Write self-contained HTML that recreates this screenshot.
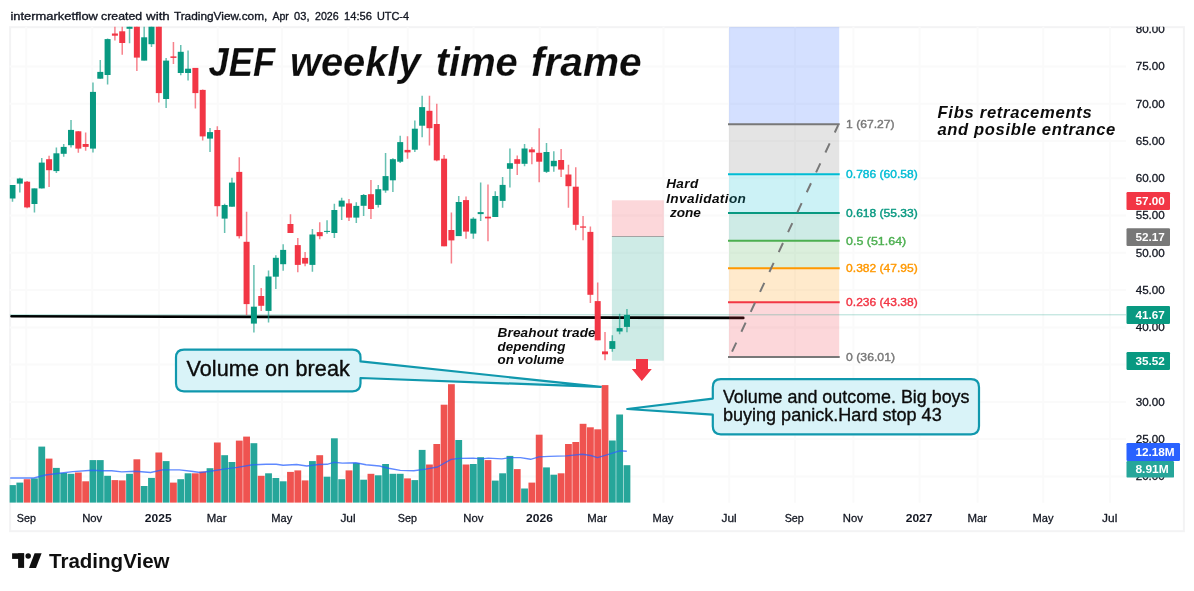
<!DOCTYPE html>
<html lang="en">
<head>
<meta charset="utf-8">
<title>JEF weekly time frame</title>
<style>
html,body{margin:0;padding:0;background:#fff;}
body{width:1194px;height:591px;overflow:hidden;font-family:"Liberation Sans", "DejaVu Sans", sans-serif;}
svg{display:block;font-family:"Liberation Sans", "DejaVu Sans", sans-serif;}
text{white-space:pre;}
</style>
</head>
<body>
<svg width="1194" height="591" viewBox="0 0 1194 591">
<defs>
<clipPath id="pane"><rect x="9.6" y="26.7" width="1116.4" height="476.1"/></clipPath>
<clipPath id="frame"><rect x="9.6" y="26.7" width="1174.8000000000002" height="505.00000000000006"/></clipPath>
</defs>
<rect x="0" y="0" width="1194" height="591" fill="#ffffff"/>

<text x="10.5" y="19.5" font-size="11.6" fill="#131722" stroke="#131722" stroke-width="0.35" stroke-linejoin="round" textLength="87.4" lengthAdjust="spacingAndGlyphs">intermarketflow</text>
<text x="101.1" y="19.5" font-size="11.6" fill="#131722" stroke="#131722" stroke-width="0.35" stroke-linejoin="round" textLength="41.0" lengthAdjust="spacingAndGlyphs">created</text>
<text x="146.1" y="19.5" font-size="11.6" fill="#131722" stroke="#131722" stroke-width="0.35" stroke-linejoin="round" textLength="23.7" lengthAdjust="spacingAndGlyphs">with</text>
<text x="173.9" y="19.5" font-size="11.6" fill="#131722" stroke="#131722" stroke-width="0.35" stroke-linejoin="round" textLength="93.4" lengthAdjust="spacingAndGlyphs">TradingView.com,</text>
<text x="272.4" y="19.5" font-size="11.6" fill="#131722" stroke="#131722" stroke-width="0.35" stroke-linejoin="round" textLength="16.4" lengthAdjust="spacingAndGlyphs">Apr</text>
<text x="294.1" y="19.5" font-size="11.6" fill="#131722" stroke="#131722" stroke-width="0.35" stroke-linejoin="round" textLength="15.4" lengthAdjust="spacingAndGlyphs">03,</text>
<text x="315.0" y="19.5" font-size="11.6" fill="#131722" stroke="#131722" stroke-width="0.35" stroke-linejoin="round" textLength="23.7" lengthAdjust="spacingAndGlyphs">2026</text>
<text x="344.1" y="19.5" font-size="11.6" fill="#131722" stroke="#131722" stroke-width="0.35" stroke-linejoin="round" textLength="27.8" lengthAdjust="spacingAndGlyphs">14:56</text>
<text x="376.9" y="19.5" font-size="11.6" fill="#131722" stroke="#131722" stroke-width="0.35" stroke-linejoin="round" textLength="32.1" lengthAdjust="spacingAndGlyphs">UTC-4</text>
<rect x="10.1" y="27.2" width="1173.8" height="504.0" fill="#fff" stroke="#f3f3f4" stroke-width="2"/>
<g stroke="#fafafa" stroke-width="2">
<line x1="26.2" y1="26.7" x2="26.2" y2="502.8"/>
<line x1="92.2" y1="26.7" x2="92.2" y2="502.8"/>
<line x1="159.0" y1="26.7" x2="159.0" y2="502.8"/>
<line x1="217.7" y1="26.7" x2="217.7" y2="502.8"/>
<line x1="282.1" y1="26.7" x2="282.1" y2="502.8"/>
<line x1="348.3" y1="26.7" x2="348.3" y2="502.8"/>
<line x1="407.7" y1="26.7" x2="407.7" y2="502.8"/>
<line x1="473.6" y1="26.7" x2="473.6" y2="502.8"/>
<line x1="539.8" y1="26.7" x2="539.8" y2="502.8"/>
<line x1="597.5" y1="26.7" x2="597.5" y2="502.8"/>
<line x1="663.5" y1="26.7" x2="663.5" y2="502.8"/>
<line x1="729.3" y1="26.7" x2="729.3" y2="502.8"/>
<line x1="795.1" y1="26.7" x2="795.1" y2="502.8"/>
<line x1="853.4" y1="26.7" x2="853.4" y2="502.8"/>
<line x1="919.6" y1="26.7" x2="919.6" y2="502.8"/>
<line x1="977.6" y1="26.7" x2="977.6" y2="502.8"/>
<line x1="1043.3" y1="26.7" x2="1043.3" y2="502.8"/>
<line x1="1110.0" y1="26.7" x2="1110.0" y2="502.8"/>
<line x1="9.6" y1="66.6" x2="1126" y2="66.6"/>
<line x1="9.6" y1="103.8" x2="1126" y2="103.8"/>
<line x1="9.6" y1="141.1" x2="1126" y2="141.1"/>
<line x1="9.6" y1="178.3" x2="1126" y2="178.3"/>
<line x1="9.6" y1="215.6" x2="1126" y2="215.6"/>
<line x1="9.6" y1="252.8" x2="1126" y2="252.8"/>
<line x1="9.6" y1="290.1" x2="1126" y2="290.1"/>
<line x1="9.6" y1="327.4" x2="1126" y2="327.4"/>
<line x1="9.6" y1="364.6" x2="1126" y2="364.6"/>
<line x1="9.6" y1="401.9" x2="1126" y2="401.9"/>
<line x1="9.6" y1="439.1" x2="1126" y2="439.1"/>
<line x1="9.6" y1="476.4" x2="1126" y2="476.4"/>
</g>
<text x="666.2" y="188.4" font-size="13.6" fill="#0c0c0c" font-weight="bold" font-style="italic" textLength="32.0" lengthAdjust="spacing">Hard</text>
<text x="666.2" y="202.5" font-size="13.6" fill="#0c0c0c" font-weight="bold" font-style="italic" textLength="79.7" lengthAdjust="spacing">Invalidation</text>
<text x="666.2" y="216.6" font-size="13.6" fill="#0c0c0c" font-weight="bold" font-style="italic" textLength="34.6" lengthAdjust="spacing"> zone</text>
<text x="497.6" y="336.5" font-size="13.6" fill="#0c0c0c" font-weight="bold" font-style="italic" textLength="98.0" lengthAdjust="spacing">Breahout trade</text>
<text x="497.6" y="350.6" font-size="13.6" fill="#0c0c0c" font-weight="bold" font-style="italic" textLength="67.8" lengthAdjust="spacingAndGlyphs">depending</text>
<text x="497.6" y="364.4" font-size="13.6" fill="#0c0c0c" font-weight="bold" font-style="italic" textLength="66.7" lengthAdjust="spacingAndGlyphs">on volume</text>
<g clip-path="url(#pane)">
<rect x="611.9" y="200.3" width="51.9" height="36.2" fill="#f23645" fill-opacity="0.2"/>
<rect x="611.9" y="236.5" width="51.9" height="124.2" fill="#089981" fill-opacity="0.2"/>
<line x1="611.9" y1="236.5" x2="663.8" y2="236.5" stroke="#8e8e8e" stroke-opacity="0.75" stroke-width="1"/>
<line x1="11.5" y1="316.3" x2="743.3" y2="317.9" stroke="#000" stroke-width="2.6" stroke-linecap="round"/>
<rect x="729" y="26.7" width="110.2" height="97.5" fill="#2962ff" fill-opacity="0.2"/>
<rect x="729" y="124.2" width="110.2" height="50.0" fill="#787878" fill-opacity="0.2"/>
<rect x="729" y="174.2" width="110.2" height="38.7" fill="#00bcd4" fill-opacity="0.2"/>
<rect x="729" y="212.9" width="110.2" height="27.9" fill="#089981" fill-opacity="0.2"/>
<rect x="729" y="240.8" width="110.2" height="27.4" fill="#4caf50" fill-opacity="0.2"/>
<rect x="729" y="268.2" width="110.2" height="34.0" fill="#ff9800" fill-opacity="0.2"/>
<rect x="729" y="302.2" width="110.2" height="54.8" fill="#f23645" fill-opacity="0.2"/>
</g>
<g clip-path="url(#pane)">
<line x1="728" y1="124.2" x2="839.7" y2="124.2" stroke="#787878" stroke-width="2"/>
<line x1="728" y1="174.2" x2="839.7" y2="174.2" stroke="#00bcd4" stroke-width="2"/>
<line x1="728" y1="212.9" x2="839.7" y2="212.9" stroke="#089981" stroke-width="2"/>
<line x1="728" y1="240.8" x2="839.7" y2="240.8" stroke="#4caf50" stroke-width="2"/>
<line x1="728" y1="268.2" x2="839.7" y2="268.2" stroke="#ff9800" stroke-width="2"/>
<line x1="728" y1="302.2" x2="839.7" y2="302.2" stroke="#f23645" stroke-width="2"/>
<line x1="728" y1="357.0" x2="839.7" y2="357.0" stroke="#787878" stroke-width="2"/>
<line x1="838.2" y1="125.2" x2="730" y2="356.0" stroke="#787878" stroke-width="2" stroke-dasharray="10 12" stroke-dashoffset="1.9"/>
<line x1="9.6" y1="314.8" x2="1126" y2="314.8" stroke="#089981" stroke-opacity="0.32" stroke-width="1"/>
</g>
<text x="846.1" y="128.1" font-size="11.8" fill="#787878" stroke="#787878" stroke-width="0.4" stroke-linejoin="round" textLength="48.4" lengthAdjust="spacingAndGlyphs">1 (67.27)</text>
<text x="846.1" y="178.1" font-size="11.8" fill="#00bcd4" stroke="#00bcd4" stroke-width="0.4" stroke-linejoin="round" textLength="71.6" lengthAdjust="spacingAndGlyphs">0.786 (60.58)</text>
<text x="846.1" y="216.8" font-size="11.8" fill="#089981" stroke="#089981" stroke-width="0.4" stroke-linejoin="round" textLength="71.6" lengthAdjust="spacingAndGlyphs">0.618 (55.33)</text>
<text x="846.1" y="244.7" font-size="11.8" fill="#4caf50" stroke="#4caf50" stroke-width="0.4" stroke-linejoin="round" textLength="60.1" lengthAdjust="spacingAndGlyphs">0.5 (51.64)</text>
<text x="846.1" y="272.1" font-size="11.8" fill="#ff9800" stroke="#ff9800" stroke-width="0.4" stroke-linejoin="round" textLength="71.6" lengthAdjust="spacingAndGlyphs">0.382 (47.95)</text>
<text x="846.1" y="306.1" font-size="11.8" fill="#f23645" stroke="#f23645" stroke-width="0.4" stroke-linejoin="round" textLength="71.6" lengthAdjust="spacingAndGlyphs">0.236 (43.38)</text>
<text x="846.1" y="360.9" font-size="11.8" fill="#787878" stroke="#787878" stroke-width="0.4" stroke-linejoin="round" textLength="48.9" lengthAdjust="spacingAndGlyphs">0 (36.01)</text>
<text x="208.6" y="76.3" font-size="40" fill="#0c0c0c" font-weight="bold" font-style="italic" textLength="66.6" lengthAdjust="spacingAndGlyphs" stroke="#ffffff" stroke-width="0.35" stroke-opacity="0.5">JEF</text>
<text x="290.0" y="76.3" font-size="40" fill="#0c0c0c" font-weight="bold" font-style="italic" textLength="130.6" lengthAdjust="spacingAndGlyphs" stroke="#ffffff" stroke-width="0.35" stroke-opacity="0.5">weekly</text>
<text x="435.8" y="76.3" font-size="40" fill="#0c0c0c" font-weight="bold" font-style="italic" textLength="82.0" lengthAdjust="spacingAndGlyphs" stroke="#ffffff" stroke-width="0.35" stroke-opacity="0.5">time</text>
<text x="531.0" y="76.3" font-size="40" fill="#0c0c0c" font-weight="bold" font-style="italic" textLength="110.6" lengthAdjust="spacingAndGlyphs" stroke="#ffffff" stroke-width="0.35" stroke-opacity="0.5">frame</text>
<text x="937.5" y="117.6" font-size="16.6" fill="#0c0c0c" font-weight="bold" font-style="italic" textLength="154.2" lengthAdjust="spacing">Fibs retracements</text>
<text x="937.5" y="135.1" font-size="16.6" fill="#0c0c0c" font-weight="bold" font-style="italic" textLength="177.8" lengthAdjust="spacing">and posible entrance</text>
<g clip-path="url(#pane)">
<rect x="9.10" y="485.1" width="6.8" height="17.7" fill="#26a69a"/>
<rect x="16.42" y="482.6" width="6.8" height="20.2" fill="#26a69a"/>
<rect x="23.73" y="479.2" width="6.8" height="23.6" fill="#ef5350"/>
<rect x="31.05" y="478.4" width="6.8" height="24.4" fill="#26a69a"/>
<rect x="38.36" y="446.6" width="6.8" height="56.2" fill="#26a69a"/>
<rect x="45.68" y="458.6" width="6.8" height="44.2" fill="#ef5350"/>
<rect x="52.99" y="467.9" width="6.8" height="34.9" fill="#26a69a"/>
<rect x="60.31" y="473.0" width="6.8" height="29.8" fill="#26a69a"/>
<rect x="67.62" y="473.8" width="6.8" height="29.0" fill="#26a69a"/>
<rect x="74.94" y="472.5" width="6.8" height="30.3" fill="#ef5350"/>
<rect x="82.25" y="481.3" width="6.8" height="21.5" fill="#ef5350"/>
<rect x="89.56" y="460.1" width="6.8" height="42.7" fill="#26a69a"/>
<rect x="96.88" y="460.1" width="6.8" height="42.7" fill="#26a69a"/>
<rect x="104.19" y="475.8" width="6.8" height="27.0" fill="#26a69a"/>
<rect x="111.51" y="480.1" width="6.8" height="22.7" fill="#ef5350"/>
<rect x="118.83" y="480.4" width="6.8" height="22.4" fill="#ef5350"/>
<rect x="126.14" y="473.8" width="6.8" height="29.0" fill="#26a69a"/>
<rect x="133.46" y="459.3" width="6.8" height="43.5" fill="#ef5350"/>
<rect x="140.77" y="486.0" width="6.8" height="16.8" fill="#26a69a"/>
<rect x="148.09" y="477.9" width="6.8" height="24.9" fill="#26a69a"/>
<rect x="155.40" y="452.5" width="6.8" height="50.3" fill="#ef5350"/>
<rect x="162.72" y="461.1" width="6.8" height="41.7" fill="#26a69a"/>
<rect x="170.03" y="482.6" width="6.8" height="20.2" fill="#ef5350"/>
<rect x="177.34" y="479.2" width="6.8" height="23.6" fill="#26a69a"/>
<rect x="184.66" y="473.3" width="6.8" height="29.5" fill="#26a69a"/>
<rect x="191.97" y="473.3" width="6.8" height="29.5" fill="#ef5350"/>
<rect x="199.29" y="471.6" width="6.8" height="31.2" fill="#ef5350"/>
<rect x="206.61" y="468.2" width="6.8" height="34.6" fill="#26a69a"/>
<rect x="213.92" y="442.5" width="6.8" height="60.3" fill="#ef5350"/>
<rect x="221.24" y="455.2" width="6.8" height="47.6" fill="#26a69a"/>
<rect x="228.55" y="462.0" width="6.8" height="40.8" fill="#26a69a"/>
<rect x="235.87" y="440.6" width="6.8" height="62.2" fill="#ef5350"/>
<rect x="243.18" y="436.6" width="6.8" height="66.2" fill="#ef5350"/>
<rect x="250.50" y="443.2" width="6.8" height="59.6" fill="#26a69a"/>
<rect x="257.81" y="475.8" width="6.8" height="27.0" fill="#ef5350"/>
<rect x="265.13" y="473.3" width="6.8" height="29.5" fill="#26a69a"/>
<rect x="272.44" y="478.0" width="6.8" height="24.8" fill="#26a69a"/>
<rect x="279.76" y="481.3" width="6.8" height="21.5" fill="#26a69a"/>
<rect x="287.07" y="471.9" width="6.8" height="30.9" fill="#ef5350"/>
<rect x="294.39" y="470.4" width="6.8" height="32.4" fill="#ef5350"/>
<rect x="301.70" y="480.4" width="6.8" height="22.4" fill="#ef5350"/>
<rect x="309.02" y="461.1" width="6.8" height="41.7" fill="#26a69a"/>
<rect x="316.33" y="455.2" width="6.8" height="47.6" fill="#ef5350"/>
<rect x="323.65" y="476.7" width="6.8" height="26.1" fill="#26a69a"/>
<rect x="330.96" y="438.3" width="6.8" height="64.5" fill="#26a69a"/>
<rect x="338.28" y="479.2" width="6.8" height="23.6" fill="#26a69a"/>
<rect x="345.59" y="470.4" width="6.8" height="32.4" fill="#ef5350"/>
<rect x="352.91" y="463.1" width="6.8" height="39.7" fill="#26a69a"/>
<rect x="360.22" y="479.7" width="6.8" height="23.1" fill="#26a69a"/>
<rect x="367.54" y="473.8" width="6.8" height="29.0" fill="#ef5350"/>
<rect x="374.85" y="475.3" width="6.8" height="27.5" fill="#26a69a"/>
<rect x="382.17" y="464.0" width="6.8" height="38.8" fill="#26a69a"/>
<rect x="389.48" y="473.8" width="6.8" height="29.0" fill="#26a69a"/>
<rect x="396.80" y="473.8" width="6.8" height="29.0" fill="#26a69a"/>
<rect x="404.11" y="478.4" width="6.8" height="24.4" fill="#ef5350"/>
<rect x="411.43" y="480.1" width="6.8" height="22.7" fill="#26a69a"/>
<rect x="418.74" y="449.9" width="6.8" height="52.9" fill="#26a69a"/>
<rect x="426.06" y="464.5" width="6.8" height="38.3" fill="#ef5350"/>
<rect x="433.37" y="444.0" width="6.8" height="58.8" fill="#ef5350"/>
<rect x="440.69" y="404.7" width="6.8" height="98.1" fill="#ef5350"/>
<rect x="448.00" y="384.2" width="6.8" height="118.6" fill="#ef5350"/>
<rect x="455.32" y="440.0" width="6.8" height="62.8" fill="#26a69a"/>
<rect x="462.63" y="464.5" width="6.8" height="38.3" fill="#ef5350"/>
<rect x="469.95" y="464.0" width="6.8" height="38.8" fill="#26a69a"/>
<rect x="477.26" y="457.2" width="6.8" height="45.6" fill="#26a69a"/>
<rect x="484.58" y="460.1" width="6.8" height="42.7" fill="#ef5350"/>
<rect x="491.89" y="480.6" width="6.8" height="22.2" fill="#26a69a"/>
<rect x="499.21" y="473.3" width="6.8" height="29.5" fill="#26a69a"/>
<rect x="506.52" y="455.9" width="6.8" height="46.9" fill="#26a69a"/>
<rect x="513.84" y="469.1" width="6.8" height="33.7" fill="#ef5350"/>
<rect x="521.15" y="488.5" width="6.8" height="14.3" fill="#26a69a"/>
<rect x="528.47" y="482.6" width="6.8" height="20.2" fill="#ef5350"/>
<rect x="535.78" y="434.7" width="6.8" height="68.1" fill="#ef5350"/>
<rect x="543.10" y="467.4" width="6.8" height="35.4" fill="#26a69a"/>
<rect x="550.41" y="474.7" width="6.8" height="28.1" fill="#26a69a"/>
<rect x="557.73" y="473.3" width="6.8" height="29.5" fill="#ef5350"/>
<rect x="565.04" y="444.0" width="6.8" height="58.8" fill="#ef5350"/>
<rect x="572.36" y="442.0" width="6.8" height="60.8" fill="#ef5350"/>
<rect x="579.67" y="423.8" width="6.8" height="79.0" fill="#ef5350"/>
<rect x="586.99" y="427.3" width="6.8" height="75.5" fill="#ef5350"/>
<rect x="594.30" y="429.3" width="6.8" height="73.5" fill="#ef5350"/>
<rect x="601.62" y="385.1" width="6.8" height="117.7" fill="#ef5350"/>
<rect x="608.93" y="440.5" width="6.8" height="62.3" fill="#26a69a"/>
<rect x="616.25" y="414.5" width="6.8" height="88.3" fill="#26a69a"/>
<rect x="623.56" y="465.2" width="6.8" height="37.6" fill="#26a69a"/>
<polyline points="10.2,478.0 33.8,478.0 45.7,475.0 59.2,473.3 72.8,471.6 92.2,470.3 101.5,470.8 111.7,470.8 121.8,471.9 135.4,471.3 150.6,472.5 162.4,469.9 179.4,469.9 191.2,471.3 200.2,472.5 210.3,471.3 223.8,469.1 237.4,467.4 252.6,464.8 266.1,464.3 276.3,464.3 283.1,465.3 296.6,464.5 306.8,466.0 318.6,464.5 327.1,464.3 333.8,462.3 342.3,463.1 355.8,462.8 366.0,464.8 379.5,466.0 388.5,468.2 400.3,470.4 413.8,470.8 425.7,469.1 437.5,467.0 451.1,459.4 459.5,458.4 473.1,458.1 481.5,458.9 488.3,458.1 501.8,458.9 510.3,457.6 520.4,457.6 530.6,459.3 539.0,456.9 549.2,456.4 566.1,455.9 582.3,454.2 590.8,455.5 597.5,457.6 607.7,454.7 619.5,450.8 626.8,451.3" fill="none" stroke="#2962ff" stroke-opacity="0.75" stroke-width="1.4" stroke-linejoin="round"/>
<line x1="12.50" y1="185.0" x2="12.50" y2="201.8" stroke="#089981" stroke-width="1.5" stroke-opacity="0.62"/>
<rect x="9.50" y="185.0" width="6" height="13.5" fill="#089981"/>
<line x1="19.82" y1="177.8" x2="19.82" y2="192.5" stroke="#089981" stroke-width="1.5" stroke-opacity="0.62"/>
<rect x="16.82" y="178.5" width="6" height="5.1" fill="#089981"/>
<line x1="27.13" y1="181.0" x2="27.13" y2="208.2" stroke="#f23645" stroke-width="1.5" stroke-opacity="0.62"/>
<rect x="24.13" y="181.7" width="6" height="25.7" fill="#f23645"/>
<line x1="34.45" y1="188.4" x2="34.45" y2="212.5" stroke="#089981" stroke-width="1.5" stroke-opacity="0.62"/>
<rect x="31.45" y="188.4" width="6" height="15.6" fill="#089981"/>
<line x1="41.76" y1="157.9" x2="41.76" y2="188.4" stroke="#089981" stroke-width="1.5" stroke-opacity="0.62"/>
<rect x="38.76" y="162.6" width="6" height="25.8" fill="#089981"/>
<line x1="49.08" y1="155.8" x2="49.08" y2="187.1" stroke="#f23645" stroke-width="1.5" stroke-opacity="0.62"/>
<rect x="46.08" y="159.2" width="6" height="11.0" fill="#f23645"/>
<line x1="56.39" y1="147.4" x2="56.39" y2="173.1" stroke="#089981" stroke-width="1.5" stroke-opacity="0.62"/>
<rect x="53.39" y="153.3" width="6" height="17.8" fill="#089981"/>
<line x1="63.71" y1="144.0" x2="63.71" y2="156.7" stroke="#089981" stroke-width="1.5" stroke-opacity="0.62"/>
<rect x="60.71" y="146.9" width="6" height="6.9" fill="#089981"/>
<line x1="71.02" y1="120.0" x2="71.02" y2="147.4" stroke="#089981" stroke-width="1.5" stroke-opacity="0.62"/>
<rect x="68.02" y="129.9" width="6" height="15.3" fill="#089981"/>
<line x1="78.34" y1="131.0" x2="78.34" y2="152.8" stroke="#f23645" stroke-width="1.5" stroke-opacity="0.62"/>
<rect x="75.34" y="131.3" width="6" height="17.3" fill="#f23645"/>
<line x1="85.65" y1="132.5" x2="85.65" y2="150.8" stroke="#f23645" stroke-width="1.5" stroke-opacity="0.62"/>
<rect x="82.65" y="144.0" width="6" height="2.9" fill="#f23645"/>
<line x1="92.97" y1="82.6" x2="92.97" y2="152.5" stroke="#089981" stroke-width="1.5" stroke-opacity="0.62"/>
<rect x="89.97" y="91.9" width="6" height="56.7" fill="#089981"/>
<line x1="100.28" y1="60.1" x2="100.28" y2="78.7" stroke="#089981" stroke-width="1.5" stroke-opacity="0.62"/>
<rect x="97.28" y="71.9" width="6" height="6.8" fill="#089981"/>
<line x1="107.59" y1="38.6" x2="107.59" y2="84.6" stroke="#089981" stroke-width="1.5" stroke-opacity="0.62"/>
<rect x="104.59" y="39.1" width="6" height="35.9" fill="#089981"/>
<line x1="114.91" y1="20.0" x2="114.91" y2="40.6" stroke="#f23645" stroke-width="1.5" stroke-opacity="0.62"/>
<rect x="111.91" y="33.5" width="6" height="2.2" fill="#f23645"/>
<line x1="122.23" y1="20.0" x2="122.23" y2="54.7" stroke="#f23645" stroke-width="1.5" stroke-opacity="0.62"/>
<rect x="119.23" y="31.3" width="6" height="11.7" fill="#f23645"/>
<line x1="129.54" y1="20.0" x2="129.54" y2="43.2" stroke="#089981" stroke-width="1.5" stroke-opacity="0.62"/>
<rect x="126.54" y="26.0" width="6" height="2.8" fill="#089981"/>
<line x1="136.86" y1="20.0" x2="136.86" y2="71.1" stroke="#f23645" stroke-width="1.5" stroke-opacity="0.62"/>
<rect x="133.86" y="20.0" width="6" height="37.6" fill="#f23645"/>
<line x1="144.17" y1="20.0" x2="144.17" y2="60.6" stroke="#089981" stroke-width="1.5" stroke-opacity="0.62"/>
<rect x="141.17" y="37.3" width="6" height="23.3" fill="#089981"/>
<line x1="151.49" y1="20.0" x2="151.49" y2="47.1" stroke="#089981" stroke-width="1.5" stroke-opacity="0.62"/>
<rect x="148.49" y="20.0" width="6" height="24.2" fill="#089981"/>
<line x1="158.80" y1="20.0" x2="158.80" y2="102.6" stroke="#f23645" stroke-width="1.5" stroke-opacity="0.62"/>
<rect x="155.80" y="20.0" width="6" height="73.1" fill="#f23645"/>
<line x1="166.12" y1="58.1" x2="166.12" y2="108.0" stroke="#089981" stroke-width="1.5" stroke-opacity="0.62"/>
<rect x="163.12" y="60.6" width="6" height="38.4" fill="#089981"/>
<line x1="173.43" y1="42.0" x2="173.43" y2="64.0" stroke="#f23645" stroke-width="1.5" stroke-opacity="0.62"/>
<rect x="170.43" y="56.4" width="6" height="1.5" fill="#f23645"/>
<line x1="180.75" y1="45.0" x2="180.75" y2="75.3" stroke="#089981" stroke-width="1.5" stroke-opacity="0.62"/>
<rect x="177.75" y="51.8" width="6" height="21.2" fill="#089981"/>
<line x1="188.06" y1="50.5" x2="188.06" y2="80.6" stroke="#089981" stroke-width="1.5" stroke-opacity="0.62"/>
<rect x="185.06" y="68.7" width="6" height="4.3" fill="#089981"/>
<line x1="195.38" y1="67.9" x2="195.38" y2="108.5" stroke="#f23645" stroke-width="1.5" stroke-opacity="0.62"/>
<rect x="192.38" y="67.9" width="6" height="25.2" fill="#f23645"/>
<line x1="202.69" y1="89.4" x2="202.69" y2="140.6" stroke="#f23645" stroke-width="1.5" stroke-opacity="0.62"/>
<rect x="199.69" y="89.9" width="6" height="46.5" fill="#f23645"/>
<line x1="210.01" y1="127.9" x2="210.01" y2="152.0" stroke="#089981" stroke-width="1.5" stroke-opacity="0.62"/>
<rect x="207.01" y="132.1" width="6" height="6.5" fill="#089981"/>
<line x1="217.32" y1="126.2" x2="217.32" y2="216.4" stroke="#f23645" stroke-width="1.5" stroke-opacity="0.62"/>
<rect x="214.32" y="130.0" width="6" height="76.2" fill="#f23645"/>
<line x1="224.64" y1="203.7" x2="224.64" y2="233.0" stroke="#089981" stroke-width="1.5" stroke-opacity="0.62"/>
<rect x="221.64" y="205.0" width="6" height="13.6" fill="#089981"/>
<line x1="231.95" y1="177.8" x2="231.95" y2="206.7" stroke="#089981" stroke-width="1.5" stroke-opacity="0.62"/>
<rect x="228.95" y="182.6" width="6" height="24.1" fill="#089981"/>
<line x1="239.27" y1="157.2" x2="239.27" y2="238.4" stroke="#f23645" stroke-width="1.5" stroke-opacity="0.62"/>
<rect x="236.27" y="171.9" width="6" height="64.3" fill="#f23645"/>
<line x1="246.58" y1="211.8" x2="246.58" y2="315.1" stroke="#f23645" stroke-width="1.5" stroke-opacity="0.62"/>
<rect x="243.58" y="241.8" width="6" height="62.3" fill="#f23645"/>
<line x1="253.90" y1="264.9" x2="253.90" y2="332.4" stroke="#089981" stroke-width="1.5" stroke-opacity="0.62"/>
<rect x="250.90" y="306.7" width="6" height="16.9" fill="#089981"/>
<line x1="261.21" y1="288.1" x2="261.21" y2="310.9" stroke="#f23645" stroke-width="1.5" stroke-opacity="0.62"/>
<rect x="258.21" y="296.0" width="6" height="9.8" fill="#f23645"/>
<line x1="268.53" y1="270.6" x2="268.53" y2="322.4" stroke="#089981" stroke-width="1.5" stroke-opacity="0.62"/>
<rect x="265.53" y="276.5" width="6" height="34.4" fill="#089981"/>
<line x1="275.84" y1="255.3" x2="275.84" y2="288.9" stroke="#089981" stroke-width="1.5" stroke-opacity="0.62"/>
<rect x="272.84" y="257.8" width="6" height="18.9" fill="#089981"/>
<line x1="283.16" y1="244.3" x2="283.16" y2="270.8" stroke="#089981" stroke-width="1.5" stroke-opacity="0.62"/>
<rect x="280.16" y="249.9" width="6" height="14.3" fill="#089981"/>
<line x1="290.47" y1="214.3" x2="290.47" y2="233.0" stroke="#f23645" stroke-width="1.5" stroke-opacity="0.62"/>
<rect x="287.47" y="224.0" width="6" height="9.0" fill="#f23645"/>
<line x1="297.79" y1="237.9" x2="297.79" y2="272.2" stroke="#f23645" stroke-width="1.5" stroke-opacity="0.62"/>
<rect x="294.79" y="245.1" width="6" height="19.8" fill="#f23645"/>
<line x1="305.10" y1="251.9" x2="305.10" y2="266.3" stroke="#f23645" stroke-width="1.5" stroke-opacity="0.62"/>
<rect x="302.10" y="257.9" width="6" height="5.7" fill="#f23645"/>
<line x1="312.42" y1="229.1" x2="312.42" y2="271.8" stroke="#089981" stroke-width="1.5" stroke-opacity="0.62"/>
<rect x="309.42" y="234.5" width="6" height="30.4" fill="#089981"/>
<line x1="319.73" y1="222.3" x2="319.73" y2="239.2" stroke="#f23645" stroke-width="1.5" stroke-opacity="0.62"/>
<rect x="316.73" y="232.1" width="6" height="4.1" fill="#f23645"/>
<line x1="327.05" y1="220.3" x2="327.05" y2="233.8" stroke="#089981" stroke-width="1.5" stroke-opacity="0.62"/>
<rect x="324.05" y="230.9" width="6" height="1.0" fill="#089981"/>
<line x1="334.36" y1="203.7" x2="334.36" y2="238.0" stroke="#089981" stroke-width="1.5" stroke-opacity="0.62"/>
<rect x="331.36" y="210.0" width="6" height="23.0" fill="#089981"/>
<line x1="341.68" y1="197.8" x2="341.68" y2="220.1" stroke="#089981" stroke-width="1.5" stroke-opacity="0.62"/>
<rect x="338.68" y="200.6" width="6" height="6.0" fill="#089981"/>
<line x1="348.99" y1="199.1" x2="348.99" y2="221.1" stroke="#f23645" stroke-width="1.5" stroke-opacity="0.62"/>
<rect x="345.99" y="203.4" width="6" height="14.2" fill="#f23645"/>
<line x1="356.31" y1="202.3" x2="356.31" y2="223.1" stroke="#089981" stroke-width="1.5" stroke-opacity="0.62"/>
<rect x="353.31" y="205.9" width="6" height="11.7" fill="#089981"/>
<line x1="363.62" y1="193.9" x2="363.62" y2="215.9" stroke="#089981" stroke-width="1.5" stroke-opacity="0.62"/>
<rect x="360.62" y="195.0" width="6" height="10.8" fill="#089981"/>
<line x1="370.94" y1="180.0" x2="370.94" y2="219.1" stroke="#f23645" stroke-width="1.5" stroke-opacity="0.62"/>
<rect x="367.94" y="194.2" width="6" height="14.8" fill="#f23645"/>
<line x1="378.25" y1="185.0" x2="378.25" y2="207.5" stroke="#089981" stroke-width="1.5" stroke-opacity="0.62"/>
<rect x="375.25" y="189.2" width="6" height="15.7" fill="#089981"/>
<line x1="385.56" y1="153.1" x2="385.56" y2="192.7" stroke="#089981" stroke-width="1.5" stroke-opacity="0.62"/>
<rect x="382.56" y="176.1" width="6" height="14.4" fill="#089981"/>
<line x1="392.88" y1="158.2" x2="392.88" y2="192.1" stroke="#089981" stroke-width="1.5" stroke-opacity="0.62"/>
<rect x="389.88" y="159.2" width="6" height="21.1" fill="#089981"/>
<line x1="400.19" y1="135.8" x2="400.19" y2="162.9" stroke="#089981" stroke-width="1.5" stroke-opacity="0.62"/>
<rect x="397.19" y="142.1" width="6" height="19.6" fill="#089981"/>
<line x1="407.51" y1="136.3" x2="407.51" y2="158.7" stroke="#f23645" stroke-width="1.5" stroke-opacity="0.62"/>
<rect x="404.51" y="149.9" width="6" height="2.5" fill="#f23645"/>
<line x1="414.83" y1="120.6" x2="414.83" y2="151.9" stroke="#089981" stroke-width="1.5" stroke-opacity="0.62"/>
<rect x="411.83" y="128.7" width="6" height="21.0" fill="#089981"/>
<line x1="422.14" y1="95.7" x2="422.14" y2="137.2" stroke="#089981" stroke-width="1.5" stroke-opacity="0.62"/>
<rect x="419.14" y="107.1" width="6" height="18.6" fill="#089981"/>
<line x1="429.46" y1="95.7" x2="429.46" y2="145.6" stroke="#f23645" stroke-width="1.5" stroke-opacity="0.62"/>
<rect x="426.46" y="110.8" width="6" height="17.4" fill="#f23645"/>
<line x1="436.77" y1="103.7" x2="436.77" y2="161.2" stroke="#f23645" stroke-width="1.5" stroke-opacity="0.62"/>
<rect x="433.77" y="124.0" width="6" height="36.4" fill="#f23645"/>
<line x1="444.09" y1="155.0" x2="444.09" y2="246.3" stroke="#f23645" stroke-width="1.5" stroke-opacity="0.62"/>
<rect x="441.09" y="158.7" width="6" height="87.6" fill="#f23645"/>
<line x1="451.40" y1="212.6" x2="451.40" y2="263.6" stroke="#f23645" stroke-width="1.5" stroke-opacity="0.62"/>
<rect x="448.40" y="230.0" width="6" height="10.4" fill="#f23645"/>
<line x1="458.72" y1="195.9" x2="458.72" y2="236.1" stroke="#089981" stroke-width="1.5" stroke-opacity="0.62"/>
<rect x="455.72" y="202.0" width="6" height="34.1" fill="#089981"/>
<line x1="466.03" y1="196.4" x2="466.03" y2="238.7" stroke="#f23645" stroke-width="1.5" stroke-opacity="0.62"/>
<rect x="463.03" y="200.1" width="6" height="31.5" fill="#f23645"/>
<line x1="473.35" y1="217.2" x2="473.35" y2="238.7" stroke="#089981" stroke-width="1.5" stroke-opacity="0.62"/>
<rect x="470.35" y="218.7" width="6" height="14.9" fill="#089981"/>
<line x1="480.66" y1="182.5" x2="480.66" y2="220.9" stroke="#089981" stroke-width="1.5" stroke-opacity="0.62"/>
<rect x="477.66" y="212.1" width="6" height="2.0" fill="#089981"/>
<line x1="487.98" y1="184.5" x2="487.98" y2="241.2" stroke="#f23645" stroke-width="1.5" stroke-opacity="0.62"/>
<rect x="484.98" y="216.7" width="6" height="1.7" fill="#f23645"/>
<line x1="495.29" y1="191.3" x2="495.29" y2="217.0" stroke="#089981" stroke-width="1.5" stroke-opacity="0.62"/>
<rect x="492.29" y="196.0" width="6" height="21.0" fill="#089981"/>
<line x1="502.61" y1="176.9" x2="502.61" y2="207.7" stroke="#089981" stroke-width="1.5" stroke-opacity="0.62"/>
<rect x="499.61" y="184.9" width="6" height="16.0" fill="#089981"/>
<line x1="509.92" y1="148.5" x2="509.92" y2="187.6" stroke="#089981" stroke-width="1.5" stroke-opacity="0.62"/>
<rect x="506.92" y="163.2" width="6" height="5.6" fill="#089981"/>
<line x1="517.24" y1="155.6" x2="517.24" y2="175.0" stroke="#f23645" stroke-width="1.5" stroke-opacity="0.62"/>
<rect x="514.24" y="159.2" width="6" height="4.6" fill="#f23645"/>
<line x1="524.55" y1="144.0" x2="524.55" y2="166.3" stroke="#089981" stroke-width="1.5" stroke-opacity="0.62"/>
<rect x="521.55" y="148.5" width="6" height="15.3" fill="#089981"/>
<line x1="531.87" y1="147.2" x2="531.87" y2="164.3" stroke="#f23645" stroke-width="1.5" stroke-opacity="0.62"/>
<rect x="528.87" y="149.4" width="6" height="2.9" fill="#f23645"/>
<line x1="539.18" y1="128.2" x2="539.18" y2="182.3" stroke="#f23645" stroke-width="1.5" stroke-opacity="0.62"/>
<rect x="536.18" y="152.8" width="6" height="8.9" fill="#f23645"/>
<line x1="546.50" y1="143.0" x2="546.50" y2="173.1" stroke="#089981" stroke-width="1.5" stroke-opacity="0.62"/>
<rect x="543.50" y="152.0" width="6" height="19.8" fill="#089981"/>
<line x1="553.81" y1="151.3" x2="553.81" y2="171.8" stroke="#089981" stroke-width="1.5" stroke-opacity="0.62"/>
<rect x="550.81" y="160.8" width="6" height="5.5" fill="#089981"/>
<line x1="561.12" y1="149.1" x2="561.12" y2="177.0" stroke="#f23645" stroke-width="1.5" stroke-opacity="0.62"/>
<rect x="558.12" y="160.0" width="6" height="9.6" fill="#f23645"/>
<line x1="568.44" y1="164.7" x2="568.44" y2="207.8" stroke="#f23645" stroke-width="1.5" stroke-opacity="0.62"/>
<rect x="565.44" y="174.5" width="6" height="11.7" fill="#f23645"/>
<line x1="575.75" y1="167.2" x2="575.75" y2="230.2" stroke="#f23645" stroke-width="1.5" stroke-opacity="0.62"/>
<rect x="572.75" y="186.7" width="6" height="38.1" fill="#f23645"/>
<line x1="583.07" y1="216.0" x2="583.07" y2="240.3" stroke="#f23645" stroke-width="1.5" stroke-opacity="0.62"/>
<rect x="580.07" y="226.4" width="6" height="1.3" fill="#f23645"/>
<line x1="590.38" y1="226.4" x2="590.38" y2="302.9" stroke="#f23645" stroke-width="1.5" stroke-opacity="0.62"/>
<rect x="587.38" y="231.9" width="6" height="62.9" fill="#f23645"/>
<line x1="597.70" y1="282.6" x2="597.70" y2="340.3" stroke="#f23645" stroke-width="1.5" stroke-opacity="0.62"/>
<rect x="594.70" y="301.1" width="6" height="39.2" fill="#f23645"/>
<line x1="605.01" y1="332.0" x2="605.01" y2="360.2" stroke="#f23645" stroke-width="1.5" stroke-opacity="0.62"/>
<rect x="602.01" y="351.4" width="6" height="2.9" fill="#f23645"/>
<line x1="612.33" y1="335.3" x2="612.33" y2="351.8" stroke="#089981" stroke-width="1.5" stroke-opacity="0.62"/>
<rect x="609.33" y="341.1" width="6" height="7.8" fill="#089981"/>
<line x1="619.64" y1="313.7" x2="619.64" y2="334.3" stroke="#089981" stroke-width="1.5" stroke-opacity="0.62"/>
<rect x="616.64" y="328.1" width="6" height="3.4" fill="#089981"/>
<line x1="626.96" y1="309.1" x2="626.96" y2="332.3" stroke="#089981" stroke-width="1.5" stroke-opacity="0.62"/>
<rect x="623.96" y="314.9" width="6" height="12.0" fill="#089981"/>
</g>
<path d="M636 359 L648 359 L648 369 L651.8 369 L641.8 381 L631.8 369 L636 369 Z" fill="#f23645"/>
<path d="M184 349.6 L352.5 349.6 Q360.5 349.6 360.5 357.6 L360.5 361.4 L600.8 386.9 L360.5 378 L360.5 383.3 Q360.5 391.3 352.5 391.3 L184 391.3 Q176 391.3 176 383.3 L176 357.6 Q176 349.6 184 349.6 Z" fill="#d9f3f8" stroke="#1098ad" stroke-width="2.2" stroke-linejoin="round"/>
<text x="186.4" y="376.2" font-size="21.6" fill="#0c0c0c" stroke="#0c0c0c" stroke-width="0.4" stroke-linejoin="round" textLength="163.4" lengthAdjust="spacing">Volume on break</text>
<path d="M720.8 379.2 L971 379.2 Q979 379.2 979 387.2 L979 426.3 Q979 434.3 971 434.3 L720.8 434.3 Q712.8 434.3 712.8 426.3 L712.8 414.7 L627.2 409 L712.8 398.6 L712.8 387.2 Q712.8 379.2 720.8 379.2 Z" fill="#d9f3f8" stroke="#1098ad" stroke-width="2.2" stroke-linejoin="round"/>
<text x="722.9" y="402.9" font-size="17.8" fill="#0c0c0c" stroke="#0c0c0c" stroke-width="0.35" stroke-linejoin="round" textLength="246.6" lengthAdjust="spacingAndGlyphs">Volume and outcome. Big boys</text>
<text x="722.9" y="421.0" font-size="17.8" fill="#0c0c0c" stroke="#0c0c0c" stroke-width="0.35" stroke-linejoin="round" textLength="218.8" lengthAdjust="spacingAndGlyphs">buying panick.Hard stop 43</text>
<g clip-path="url(#frame)">
<text x="1135.7" y="33.0" font-size="11.5" fill="#131722" stroke="#131722" stroke-width="0.3" stroke-linejoin="round" textLength="29.1" lengthAdjust="spacingAndGlyphs">80.00</text>
<text x="1135.7" y="70.0" font-size="11.5" fill="#131722" stroke="#131722" stroke-width="0.3" stroke-linejoin="round" textLength="29.1" lengthAdjust="spacingAndGlyphs">75.00</text>
<text x="1135.7" y="108.0" font-size="11.5" fill="#131722" stroke="#131722" stroke-width="0.3" stroke-linejoin="round" textLength="29.1" lengthAdjust="spacingAndGlyphs">70.00</text>
<text x="1135.7" y="145.0" font-size="11.5" fill="#131722" stroke="#131722" stroke-width="0.3" stroke-linejoin="round" textLength="29.1" lengthAdjust="spacingAndGlyphs">65.00</text>
<text x="1135.7" y="182.0" font-size="11.5" fill="#131722" stroke="#131722" stroke-width="0.3" stroke-linejoin="round" textLength="29.1" lengthAdjust="spacingAndGlyphs">60.00</text>
<text x="1135.7" y="219.0" font-size="11.5" fill="#131722" stroke="#131722" stroke-width="0.3" stroke-linejoin="round" textLength="29.1" lengthAdjust="spacingAndGlyphs">55.00</text>
<text x="1135.7" y="257.0" font-size="11.5" fill="#131722" stroke="#131722" stroke-width="0.3" stroke-linejoin="round" textLength="29.1" lengthAdjust="spacingAndGlyphs">50.00</text>
<text x="1135.7" y="294.0" font-size="11.5" fill="#131722" stroke="#131722" stroke-width="0.3" stroke-linejoin="round" textLength="29.1" lengthAdjust="spacingAndGlyphs">45.00</text>
<text x="1135.7" y="331.0" font-size="11.5" fill="#131722" stroke="#131722" stroke-width="0.3" stroke-linejoin="round" textLength="29.1" lengthAdjust="spacingAndGlyphs">40.00</text>
<text x="1135.7" y="368.0" font-size="11.5" fill="#131722" stroke="#131722" stroke-width="0.3" stroke-linejoin="round" textLength="29.1" lengthAdjust="spacingAndGlyphs">35.00</text>
<text x="1135.7" y="406.0" font-size="11.5" fill="#131722" stroke="#131722" stroke-width="0.3" stroke-linejoin="round" textLength="29.1" lengthAdjust="spacingAndGlyphs">30.00</text>
<text x="1135.7" y="443.0" font-size="11.5" fill="#131722" stroke="#131722" stroke-width="0.3" stroke-linejoin="round" textLength="29.1" lengthAdjust="spacingAndGlyphs">25.00</text>
<text x="1135.7" y="480.0" font-size="11.5" fill="#131722" stroke="#131722" stroke-width="0.3" stroke-linejoin="round" textLength="29.1" lengthAdjust="spacingAndGlyphs">20.00</text>
</g>
<rect x="1126.5" y="192" width="43.5" height="18.0" rx="1.2" fill="#f23645"/>
<text x="1135.4" y="205.0" font-size="11.5" fill="#ffffff" font-weight="bold" textLength="29.3" lengthAdjust="spacingAndGlyphs">57.00</text>
<rect x="1126.5" y="228.3" width="43.5" height="17.6" rx="1.2" fill="#787878"/>
<text x="1135.4" y="241.0" font-size="11.5" fill="#ffffff" font-weight="bold" textLength="29.3" lengthAdjust="spacingAndGlyphs">52.17</text>
<rect x="1126.5" y="305.9" width="43.5" height="18.0" rx="1.2" fill="#089981"/>
<text x="1135.4" y="319.0" font-size="11.5" fill="#ffffff" font-weight="bold" textLength="29.3" lengthAdjust="spacingAndGlyphs">41.67</text>
<rect x="1126.5" y="352.1" width="43.5" height="17.9" rx="1.2" fill="#089981"/>
<text x="1135.4" y="365.0" font-size="11.5" fill="#ffffff" font-weight="bold" textLength="29.3" lengthAdjust="spacingAndGlyphs">35.52</text>
<rect x="1126.5" y="443" width="53.5" height="18.0" rx="1.2" fill="#2962ff"/>
<text x="1135.4" y="456.0" font-size="11.5" fill="#ffffff" font-weight="bold" textLength="39.3" lengthAdjust="spacingAndGlyphs">12.18M</text>
<rect x="1126.5" y="461" width="47.5" height="16.6" rx="1.2" fill="#26a69a"/>
<text x="1135.4" y="473.0" font-size="11.5" fill="#ffffff" font-weight="bold" textLength="33.3" lengthAdjust="spacingAndGlyphs">8.91M</text>
<text x="26.3" y="521.6" font-size="11.5" fill="#131722" stroke="#131722" stroke-width="0.3" stroke-linejoin="round" text-anchor="middle" textLength="19.1" lengthAdjust="spacingAndGlyphs">Sep</text>
<text x="92.2" y="521.6" font-size="11.5" fill="#131722" stroke="#131722" stroke-width="0.3" stroke-linejoin="round" text-anchor="middle" textLength="20.1" lengthAdjust="spacingAndGlyphs">Nov</text>
<text x="158.2" y="521.6" font-size="11.5" fill="#131722" font-weight="bold" text-anchor="middle" textLength="26.8" lengthAdjust="spacingAndGlyphs">2025</text>
<text x="216.7" y="521.6" font-size="11.5" fill="#131722" stroke="#131722" stroke-width="0.3" stroke-linejoin="round" text-anchor="middle" textLength="19.7" lengthAdjust="spacingAndGlyphs">Mar</text>
<text x="281.8" y="521.6" font-size="11.5" fill="#131722" stroke="#131722" stroke-width="0.3" stroke-linejoin="round" text-anchor="middle" textLength="21.0" lengthAdjust="spacingAndGlyphs">May</text>
<text x="348.0" y="521.6" font-size="11.5" fill="#131722" stroke="#131722" stroke-width="0.3" stroke-linejoin="round" text-anchor="middle" textLength="15.2" lengthAdjust="spacingAndGlyphs">Jul</text>
<text x="407.4" y="521.6" font-size="11.5" fill="#131722" stroke="#131722" stroke-width="0.3" stroke-linejoin="round" text-anchor="middle" textLength="19.1" lengthAdjust="spacingAndGlyphs">Sep</text>
<text x="473.3" y="521.6" font-size="11.5" fill="#131722" stroke="#131722" stroke-width="0.3" stroke-linejoin="round" text-anchor="middle" textLength="20.1" lengthAdjust="spacingAndGlyphs">Nov</text>
<text x="539.5" y="521.6" font-size="11.5" fill="#131722" font-weight="bold" text-anchor="middle" textLength="26.8" lengthAdjust="spacingAndGlyphs">2026</text>
<text x="597.2" y="521.6" font-size="11.5" fill="#131722" stroke="#131722" stroke-width="0.3" stroke-linejoin="round" text-anchor="middle" textLength="19.7" lengthAdjust="spacingAndGlyphs">Mar</text>
<text x="662.9" y="521.6" font-size="11.5" fill="#131722" stroke="#131722" stroke-width="0.3" stroke-linejoin="round" text-anchor="middle" textLength="21.0" lengthAdjust="spacingAndGlyphs">May</text>
<text x="729.1" y="521.6" font-size="11.5" fill="#131722" stroke="#131722" stroke-width="0.3" stroke-linejoin="round" text-anchor="middle" textLength="15.2" lengthAdjust="spacingAndGlyphs">Jul</text>
<text x="794.2" y="521.6" font-size="11.5" fill="#131722" stroke="#131722" stroke-width="0.3" stroke-linejoin="round" text-anchor="middle" textLength="19.1" lengthAdjust="spacingAndGlyphs">Sep</text>
<text x="852.9" y="521.6" font-size="11.5" fill="#131722" stroke="#131722" stroke-width="0.3" stroke-linejoin="round" text-anchor="middle" textLength="20.1" lengthAdjust="spacingAndGlyphs">Nov</text>
<text x="919.1" y="521.6" font-size="11.5" fill="#131722" font-weight="bold" text-anchor="middle" textLength="26.8" lengthAdjust="spacingAndGlyphs">2027</text>
<text x="977.3" y="521.6" font-size="11.5" fill="#131722" stroke="#131722" stroke-width="0.3" stroke-linejoin="round" text-anchor="middle" textLength="19.7" lengthAdjust="spacingAndGlyphs">Mar</text>
<text x="1043.0" y="521.6" font-size="11.5" fill="#131722" stroke="#131722" stroke-width="0.3" stroke-linejoin="round" text-anchor="middle" textLength="21.0" lengthAdjust="spacingAndGlyphs">May</text>
<text x="1109.7" y="521.6" font-size="11.5" fill="#131722" stroke="#131722" stroke-width="0.3" stroke-linejoin="round" text-anchor="middle" textLength="15.2" lengthAdjust="spacingAndGlyphs">Jul</text>
<g fill="#0f0f0f">
<rect x="12.1" y="553.3" width="12" height="5.6"/>
<rect x="18.1" y="553.3" width="6" height="14.6"/>
<circle cx="28.2" cy="556" r="2.75"/>
<rect x="0" y="0" width="7" height="14.6" transform="translate(34.6 553.3) skewX(-21)"/>
</g>
<text x="49.0" y="567.9" font-size="21" fill="#0f0f0f" font-weight="bold" textLength="120.6" lengthAdjust="spacingAndGlyphs">TradingView</text>
</svg>
</body>
</html>
